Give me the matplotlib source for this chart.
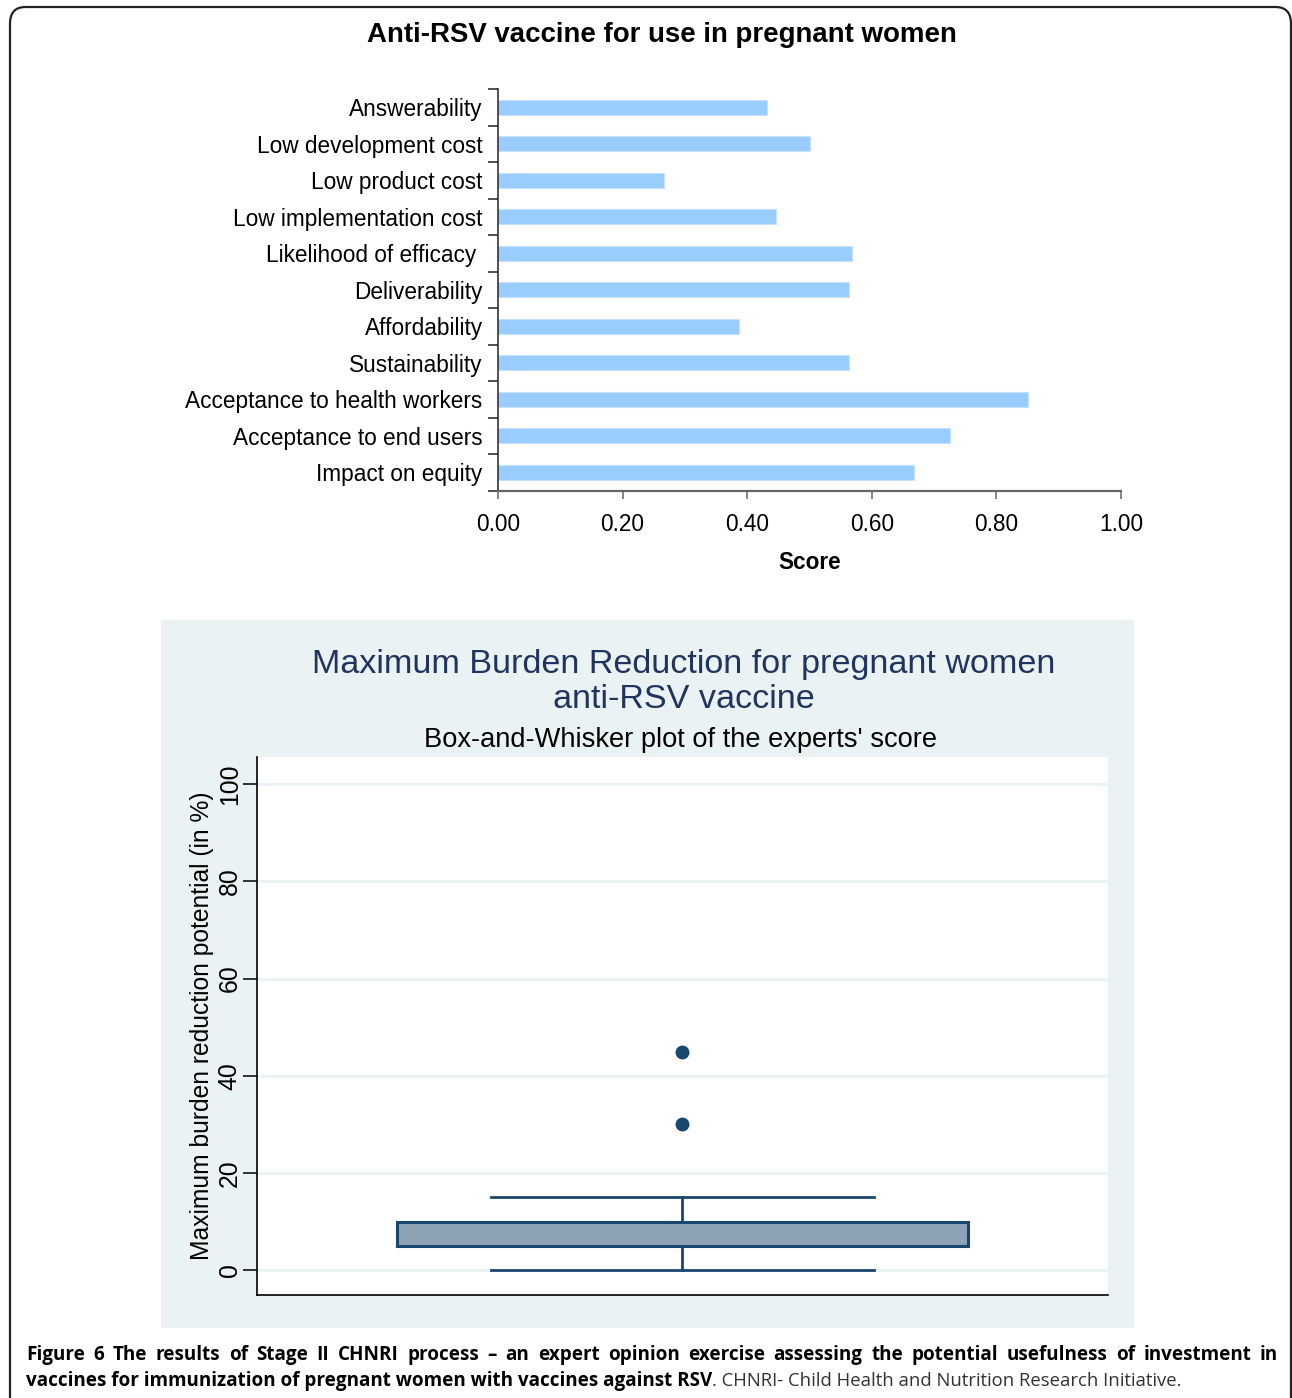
import matplotlib
matplotlib.use("Agg")
import matplotlib.pyplot as plt
from matplotlib.patches import FancyBboxPatch, Rectangle
from matplotlib.ticker import FixedLocator

plt.rcParams["font.family"] = ["Liberation Sans", "DejaVu Sans"]

# ---------- data ----------
criteria = ["Answerability", "Low development cost", "Low product cost", "Low implementation cost",
            "Likelihood of efficacy ", "Deliverability", "Affordability", "Sustainability",
            "Acceptance to health workers", "Acceptance to end users", "Impact on equity"]
scores = [0.432, 0.501, 0.266, 0.446, 0.568, 0.563, 0.387, 0.563, 0.851, 0.725, 0.668]
score_ticks = [0.0, 0.2, 0.4, 0.6, 0.8, 1.0]

# box-and-whisker summary of the experts' scores (in %)
mbr_whislo, mbr_q1, mbr_med, mbr_q3, mbr_whishi = 0, 5, 10, 10, 15
mbr_outliers = [30, 45]
mbr_ticks = [0, 20, 40, 60, 80, 100]

W, H = 1292, 1398
fig = plt.figure(figsize=(W / 100, H / 100), dpi=100)

def fx(px): return px / W
def fy(py): return 1 - py / H

# outer rounded frame (only left/top visible)
fig.patches.append(FancyBboxPatch((fx(10), fy(1420)), fx(1281), (1420 - 7) / H,
                                  boxstyle="round,pad=0,rounding_size=0.012",
                                  transform=fig.transFigure, fill=False, ec="#222222", lw=1.6,
                                  zorder=-2))

# ---------- top: horizontal bar chart ----------
ax = fig.add_axes([fx(498), fy(490.7), fx(1121 - 498), (490.7 - 89) / H])
ypos = list(range(len(criteria)))
ax.barh(ypos, scores, height=0.41, color="#99ccff", edgecolor="#c6e2ff", lw=0.8)
ax.set_ylim(len(criteria) - 0.5, -0.5)
ax.set_xlim(0, 1.0)
ax.set_yticks(ypos)
ax.set_yticklabels(criteria, fontsize=16.3)
ax.yaxis.set_minor_locator(FixedLocator([i - 0.5 for i in range(len(criteria) + 1)]))
ax.tick_params(axis="y", which="major", length=0, pad=11)
ax.tick_params(axis="y", which="minor", length=7, width=1.1, color="#222222")
ax.set_xticks(score_ticks)
ax.set_xticklabels([f"{t:.2f}" for t in score_ticks], fontsize=16.3)
ax.tick_params(axis="x", length=6, width=1.1, color="#666666", pad=10)
for s in ("top", "right"):
    ax.spines[s].set_visible(False)
ax.spines["left"].set_color("#222222"); ax.spines["left"].set_linewidth(1.1)
ax.spines["bottom"].set_color("#666666"); ax.spines["bottom"].set_linewidth(1.6)
ax.set_xlabel("Score", fontsize=16.3, fontweight="bold", labelpad=11)
fig.text(fx(662), fy(35), "Anti-RSV vaccine for use in pregnant women", ha="center", va="center",
         fontsize=19.9, fontweight="bold")

# ---------- bottom: box-and-whisker (Stata-like) ----------
fig.patches.append(Rectangle((fx(161), fy(1328)), fx(1134 - 161), (1328 - 620) / H,
                             transform=fig.transFigure, fc="#eaf2f3", ec="none", zorder=-1))
bx = fig.add_axes([fx(257), fy(1295), fx(1108 - 257), (1295 - 757) / H])
bx.set_zorder(2)
bx.set_facecolor("white")
navy = "#1a476f"
stats = [dict(whislo=mbr_whislo, q1=mbr_q1, med=mbr_med, q3=mbr_q3, whishi=mbr_whishi,
              fliers=mbr_outliers)]
bx.bxp(stats, positions=[0.5], widths=0.671, capwidths=0.451, patch_artist=True,
       boxprops=dict(facecolor="#8ea2b6", edgecolor=navy, lw=2.2),
       whiskerprops=dict(color=navy, lw=2), capprops=dict(color=navy, lw=2),
       medianprops=dict(color=navy, lw=2),
       flierprops=dict(marker="o", markerfacecolor=navy, markeredgecolor=navy, markersize=9))
bx.set_xlim(0, 1)
bx.set_ylim(-5.1, 105.6)
bx.set_xticks([])
bx.set_yticks(mbr_ticks)
bx.set_yticklabels([str(t) for t in mbr_ticks], rotation=90, va="center", fontsize=17.8)
bx.tick_params(axis="y", length=10, width=1.1, pad=1)
bx.grid(axis="y", color="#eaf2f3", lw=2)
bx.set_axisbelow(True)
for s in ("top", "right"):
    bx.spines[s].set_visible(False)
bx.spines["left"].set_linewidth(1.2)
bx.spines["bottom"].set_linewidth(1.2)
bx.set_ylabel("Maximum burden reduction potential (in %)", fontsize=17.7, labelpad=3)
fig.text(fx(684), fy(665), "Maximum Burden Reduction for pregnant women", ha="center", va="center",
         fontsize=24.6, color="#1f3560")
fig.text(fx(684), fy(700), "anti-RSV vaccine", ha="center", va="center", fontsize=24.6, color="#1f3560")
fig.text(fx(680), fy(740), "Box-and-Whisker plot of the experts' score", ha="center", va="center",
         fontsize=19.6)

# ---------- caption (justified first line) ----------
cap_font = ["Open Sans", "DejaVu Sans"]
line1 = ("Figure 6 The results of Stage II CHNRI process \u2013 an expert opinion exercise assessing "
         "the potential usefulness of investment in").split(" ")
r = fig.canvas.get_renderer()
words = [fig.text(0, fy(1355), w, fontsize=13.6, fontweight="bold", family=cap_font, va="center")
         for w in line1]
widths = [t.get_window_extent(r).width for t in words]
gap = (1278 - 26 - sum(widths)) / (len(words) - 1)
x = 26
for t, wd in zip(words, widths):
    t.set_x(fx(x)); x += wd + gap
t1 = fig.text(fx(26), fy(1381), "vaccines for immunization of pregnant women with vaccines against RSV",
              fontsize=13.6, fontweight="bold", family=cap_font, va="center")
w1 = t1.get_window_extent(r).width
fig.text(fx(26 + w1), fy(1381), ". CHNRI- Child Health and Nutrition Research Initiative.",
         fontsize=13.3, family=cap_font, va="center", color="#333333")

fig.savefig("out.png", dpi=100)
